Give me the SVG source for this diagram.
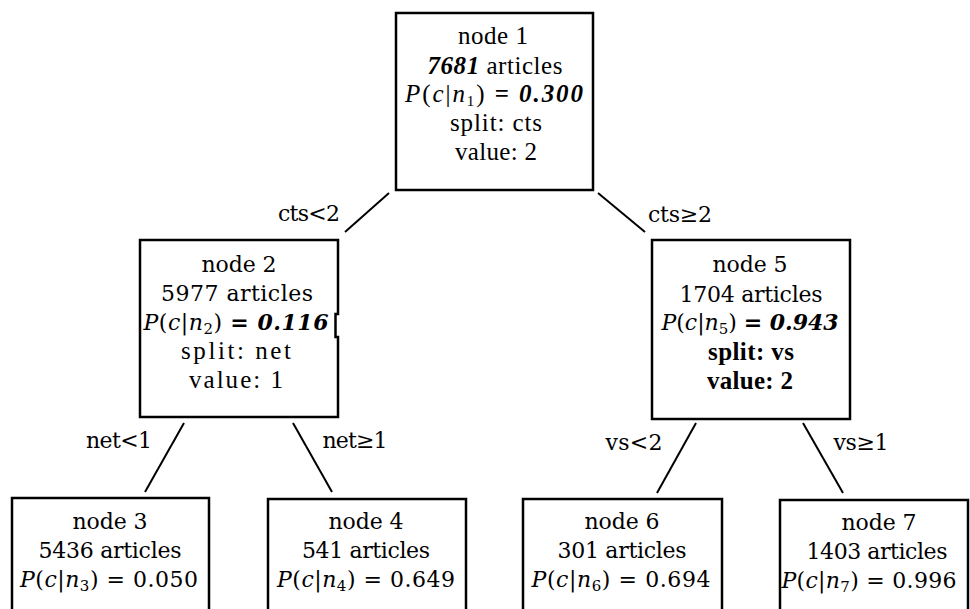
<svg xmlns="http://www.w3.org/2000/svg" width="970" height="609" viewBox="0 0 970 609">
<style>
.box{fill:#fff;stroke:#000;stroke-width:2.5}
.frame{fill:none;stroke:#000;stroke-width:2.5;stroke-linecap:square}
.edge{stroke:#000;stroke-width:2;fill:none}
.tm{font-family:"Liberation Serif",serif;font-size:25px;fill:#000}
.lu{font-family:"DejaVu Serif",serif;font-size:22px;fill:#000}
.lbl{font-family:"DejaVu Serif",serif;font-size:22px;fill:#000}
.i{font-style:italic}
.b{font-weight:bold}
.bi{font-weight:bold;font-style:italic}
.sub{font-size:15px}
</style>
<rect width="970" height="609" fill="#fff"/>
<g id="connectors">
  <line class="edge" x1="389" y1="193" x2="345" y2="232"/>
  <line class="edge" x1="598" y1="193" x2="645" y2="232"/>
  <line class="edge" x1="184" y1="423" x2="145" y2="492"/>
  <line class="edge" x1="293" y1="423" x2="332" y2="492"/>
  <line class="edge" x1="696" y1="423" x2="657" y2="493"/>
  <line class="edge" x1="803" y1="423" x2="843" y2="493"/>
  <text class="lbl" x="309" y="221" text-anchor="middle" textLength="62">cts&lt;2</text>
  <text class="lbl" x="680" y="222" text-anchor="middle" textLength="64">cts≥2</text>
  <text class="lbl" x="119" y="448" text-anchor="middle" textLength="66">net&lt;1</text>
  <text class="lbl" x="355" y="448" text-anchor="middle" textLength="65">net≥1</text>
  <text class="lbl" x="634" y="450" text-anchor="middle" textLength="57">vs&lt;2</text>
  <text class="lbl" x="861" y="450" text-anchor="middle" textLength="55">vs≥1</text>
</g>
<g id="node1">
  <rect class="box" x="396" y="13" width="197" height="177"/>
  <text class="tm" x="493" y="44" text-anchor="middle" textLength="70">node 1</text>
  <text class="tm" x="495" y="74" text-anchor="middle" textLength="135"><tspan class="bi">7681</tspan> articles</text>
  <text class="tm" x="494" y="102" text-anchor="middle" textLength="178"><tspan class="i">P</tspan>(<tspan class="i">c</tspan>|<tspan class="i">n</tspan><tspan class="sub" dy="4">1</tspan><tspan dy="-4">) </tspan><tspan class="b">= </tspan><tspan class="bi">0.300</tspan></text>
  <text class="tm" x="496" y="131" text-anchor="middle" textLength="92">split: cts</text>
  <text class="tm" x="496" y="160" text-anchor="middle" textLength="82">value: 2</text>
</g>
<g id="node2">
  <rect x="140" y="240" width="198" height="177" fill="#fff"/>
  <path class="frame" d="M140,240 H338 V314 M335.5,314 V337 M338,337 V417 H140 V240"/>
  <text class="lu" x="239" y="272" text-anchor="middle" textLength="75">node 2</text>
  <text class="lu" x="237" y="301" text-anchor="middle" textLength="152">5977 articles</text>
  <text class="lu" x="236" y="330" text-anchor="middle" textLength="185"><tspan class="i">P</tspan>(<tspan class="i">c</tspan>|<tspan class="i">n</tspan><tspan class="sub" dy="4">2</tspan><tspan dy="-4">) </tspan><tspan class="b">= </tspan><tspan class="bi">0.116</tspan></text>
  <text class="tm" x="236" y="359" text-anchor="middle" textLength="110">split: net</text>
  <text class="tm" x="236" y="388" text-anchor="middle" textLength="94">value: 1</text>
</g>
<g id="node5">
  <rect class="box" x="652" y="240" width="198" height="179"/>
  <text class="lu" x="750" y="272" text-anchor="middle" textLength="75">node 5</text>
  <text class="lu" x="751" y="302" text-anchor="middle" textLength="143">1704 articles</text>
  <text class="lu" x="750" y="330" text-anchor="middle" textLength="177"><tspan class="i">P</tspan>(<tspan class="i">c</tspan>|<tspan class="i">n</tspan><tspan class="sub" dy="4">5</tspan><tspan dy="-4">) </tspan><tspan class="b">= </tspan><tspan class="bi">0.943</tspan></text>
  <text class="tm b" x="751" y="360" text-anchor="middle" textLength="86">split: vs</text>
  <text class="tm b" x="750" y="389" text-anchor="middle" textLength="86">value: 2</text>
</g>
<g id="node3">
  <rect class="box" x="12" y="498" width="197" height="130"/>
  <text class="lu" x="110" y="529" text-anchor="middle" textLength="75">node 3</text>
  <text class="lu" x="110" y="558" text-anchor="middle" textLength="143">5436 articles</text>
  <text class="lu" x="109" y="587" text-anchor="middle" textLength="178"><tspan class="i">P</tspan>(<tspan class="i">c</tspan>|<tspan class="i">n</tspan><tspan class="sub" dy="4">3</tspan><tspan dy="-4">) = 0.050</tspan></text>
</g>
<g id="node4">
  <rect class="box" x="268" y="499" width="198" height="130"/>
  <text class="lu" x="366" y="529" text-anchor="middle" textLength="75">node 4</text>
  <text class="lu" x="366" y="558" text-anchor="middle" textLength="128">541 articles</text>
  <text class="lu" x="366" y="587" text-anchor="middle" textLength="178"><tspan class="i">P</tspan>(<tspan class="i">c</tspan>|<tspan class="i">n</tspan><tspan class="sub" dy="4">4</tspan><tspan dy="-4">) = 0.649</tspan></text>
</g>
<g id="node6">
  <rect class="box" x="523" y="499" width="199" height="130"/>
  <text class="lu" x="622" y="529" text-anchor="middle" textLength="75">node 6</text>
  <text class="lu" x="622" y="558" text-anchor="middle" textLength="129">301 articles</text>
  <text class="lu" x="621" y="587" text-anchor="middle" textLength="179"><tspan class="i">P</tspan>(<tspan class="i">c</tspan>|<tspan class="i">n</tspan><tspan class="sub" dy="4">6</tspan><tspan dy="-4">) = 0.694</tspan></text>
</g>
<g id="node7">
  <rect class="box" x="780" y="500" width="188" height="130"/>
  <text class="lu" x="879" y="530" text-anchor="middle" textLength="75">node 7</text>
  <text class="lu" x="877" y="559" text-anchor="middle" textLength="141">1403 articles</text>
  <text class="lu" x="869" y="588" text-anchor="middle" textLength="175"><tspan class="i">P</tspan>(<tspan class="i">c</tspan>|<tspan class="i">n</tspan><tspan class="sub" dy="4">7</tspan><tspan dy="-4">) = 0.996</tspan></text>
</g>
</svg>
